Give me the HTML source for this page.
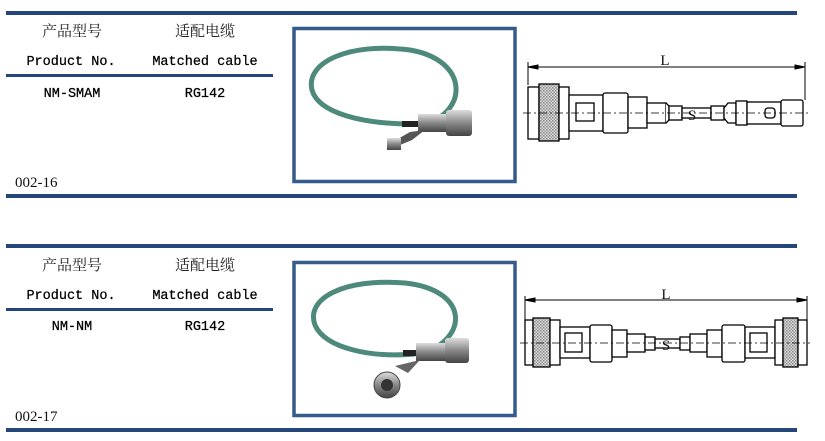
<!DOCTYPE html>
<html><head><meta charset="utf-8"><style>
body{margin:0;background:#fff;width:825px;height:441px;overflow:hidden}
svg{display:block}
.cn{font-family:"Liberation Serif","Noto Serif CJK SC","Noto Sans CJK SC",serif;font-size:15px;fill:#222}
.mn{font-family:"Liberation Mono",monospace;font-size:13.5px;fill:#000;stroke:#000;stroke-width:.25}
.sr{font-family:"Liberation Serif",serif;font-size:15px;fill:#111}
.d rect,.d path{fill:#fff;stroke:#000;stroke-width:1.3}
.k{fill:url(#knurl)!important}
</style></head><body>
<svg width="825" height="441" viewBox="0 0 825 441">
<defs>
<pattern id="knurl" width="3" height="3" patternUnits="userSpaceOnUse"><rect width="3" height="3" fill="#ddd"/><rect width="1.5" height="1.5" fill="#888"/><rect x="1.5" y="1.5" width="1.5" height="1.5" fill="#999"/></pattern>
<linearGradient id="met" x1="0" y1="0" x2="0" y2="1"><stop offset="0" stop-color="#ddd"/><stop offset=".5" stop-color="#888"/><stop offset="1" stop-color="#444"/></linearGradient>
</defs>
<g fill="#24467a">
<rect x="6" y="11" width="791" height="4"/><rect x="6" y="74" width="267" height="3"/><rect x="6" y="194" width="791" height="4"/>
<rect x="6" y="244" width="791" height="4"/><rect x="6" y="308" width="267" height="3"/><rect x="6" y="428" width="791" height="4"/>
</g>
<text class="cn" x="72" y="36" text-anchor="middle">产品型号</text>
<text class="cn" x="205" y="36" text-anchor="middle">适配电缆</text>
<text class="mn" x="71" y="65" text-anchor="middle">Product No.</text>
<text class="mn" x="205" y="65" text-anchor="middle">Matched cable</text>
<text class="mn" x="72" y="97" text-anchor="middle">NM-SMAM</text>
<text class="mn" x="205" y="97" text-anchor="middle">RG142</text>
<text class="sr" x="15" y="187">002-16</text>
<text class="cn" x="72" y="270" text-anchor="middle">产品型号</text>
<text class="cn" x="205" y="270" text-anchor="middle">适配电缆</text>
<text class="mn" x="71" y="299" text-anchor="middle">Product No.</text>
<text class="mn" x="205" y="299" text-anchor="middle">Matched cable</text>
<text class="mn" x="72" y="330" text-anchor="middle">NM-NM</text>
<text class="mn" x="205" y="330" text-anchor="middle">RG142</text>
<text class="sr" x="15" y="421">002-17</text>
<rect x="294" y="28.5" width="221" height="153" fill="#fff" stroke="#355a8c" stroke-width="3.5"/>
<rect x="294" y="262.5" width="221" height="153" fill="#fff" stroke="#355a8c" stroke-width="3.5"/>
<!-- photo 1 -->
<g>
<path d="M418 126 C470 115 470 60 410 50 C350 42 305 62 312 90 C318 112 360 125 420 124" fill="none" stroke="#4e8a7c" stroke-width="5"/>
<rect x="402" y="121" width="18" height="6" fill="#222"/>
<rect x="418" y="114" width="28" height="18" fill="url(#met)"/>
<rect x="446" y="110" width="26" height="26" rx="3" fill="url(#met)"/>
<path d="M425 130 L412 140 L400 145 L396 140 L410 132Z" fill="#555"/>
<rect x="387" y="138" width="14" height="12" fill="url(#met)"/>
</g>
<!-- photo 2 -->
<g>
<path d="M418 355 C470 340 470 290 405 283 C345 278 305 298 315 325 C325 348 370 358 415 354" fill="none" stroke="#4e8a7c" stroke-width="5"/>
<rect x="403" y="350" width="15" height="6" fill="#222"/>
<rect x="416" y="343" width="30" height="18" fill="url(#met)"/>
<rect x="445" y="338" width="24" height="25" rx="3" fill="url(#met)"/>
<path d="M420 360 L408 373 L395 366Z" fill="#666"/>
<circle cx="387" cy="385" r="13" fill="url(#met)" stroke="#444"/>
<circle cx="387" cy="385" r="6" fill="#333"/>
</g>
<!-- drawing 1 -->
<g stroke="#000" stroke-width="1">
<line x1="528" y1="67" x2="803" y2="67"/><line x1="528" y1="62" x2="528" y2="85"/><line x1="805" y1="62" x2="805" y2="100"/>
<path d="M528 67 l10 -2 v4z M805 67 l-10 -2 v4z" fill="#000"/>
</g>
<text class="sr" x="665" y="65" text-anchor="middle">L</text>
<g class="d">
<rect x="528" y="87" width="11" height="52"/><rect class="k" x="539" y="84" width="20" height="57"/><rect x="559" y="87" width="10" height="52"/>
<rect x="569" y="95" width="34" height="36"/><rect x="576" y="103" width="18" height="18"/>
<rect x="603" y="93" width="25" height="40" rx="2"/><rect x="628" y="97" width="19" height="31"/>
<rect x="647" y="103" width="19" height="20"/><path d="M666 103 L669 106 V120 L666 123"/>
<rect x="669" y="106" width="13" height="14"/><rect x="682" y="108" width="29" height="10"/><rect x="711" y="106" width="13" height="14"/>
<path d="M724 108 L728 103 H736 V123 H728 L724 118Z"/><rect x="736" y="101" width="11" height="24"/>
<rect x="747" y="102" width="34" height="22"/><rect x="765" y="108" width="10" height="10" rx="3"/>
<rect x="781" y="100" width="22" height="26" rx="2"/>
</g>
<text class="sr" x="692" y="120" text-anchor="middle" font-size="14">S</text>
<line x1="523" y1="113" x2="808" y2="113" stroke="#000" stroke-width=".7" stroke-dasharray="8,3,2,3"/>
<!-- drawing 2 -->
<g stroke="#000" stroke-width="1">
<line x1="525" y1="300" x2="807" y2="300"/><line x1="525" y1="296" x2="525" y2="320"/><line x1="807" y1="296" x2="807" y2="320"/>
<path d="M525 300 l10 -2 v4z M807 300 l-10 -2 v4z" fill="#000"/>
</g>
<text class="sr" x="666" y="299" text-anchor="middle">L</text>
<g class="d">
<rect x="525" y="320" width="8" height="45"/><rect class="k" x="533" y="318" width="17" height="49"/><rect x="550" y="320" width="10" height="45"/>
<rect x="560" y="327" width="30" height="31"/><rect x="565" y="333" width="17" height="19"/>
<rect x="590" y="325" width="22" height="37" rx="2"/><rect x="612" y="330" width="15" height="27"/>
<rect x="627" y="334" width="18" height="18"/><rect x="645" y="337" width="10" height="13"/>
<rect x="655" y="339" width="25" height="9"/><rect x="680" y="337" width="10" height="13"/>
<rect x="690" y="334" width="17" height="18"/><rect x="707" y="330" width="15" height="27"/>
<rect x="722" y="325" width="23" height="37" rx="2"/>
<rect x="745" y="327" width="30" height="31"/><rect x="750" y="333" width="17" height="19"/>
<rect x="775" y="320" width="8" height="45"/><rect class="k" x="783" y="318" width="15" height="49"/><rect x="798" y="320" width="9" height="45"/>
</g>
<text class="sr" x="666" y="350" text-anchor="middle" font-size="14">S</text>
<line x1="520" y1="343" x2="810" y2="343" stroke="#000" stroke-width=".7" stroke-dasharray="8,3,2,3"/>
</svg>
</body></html>
